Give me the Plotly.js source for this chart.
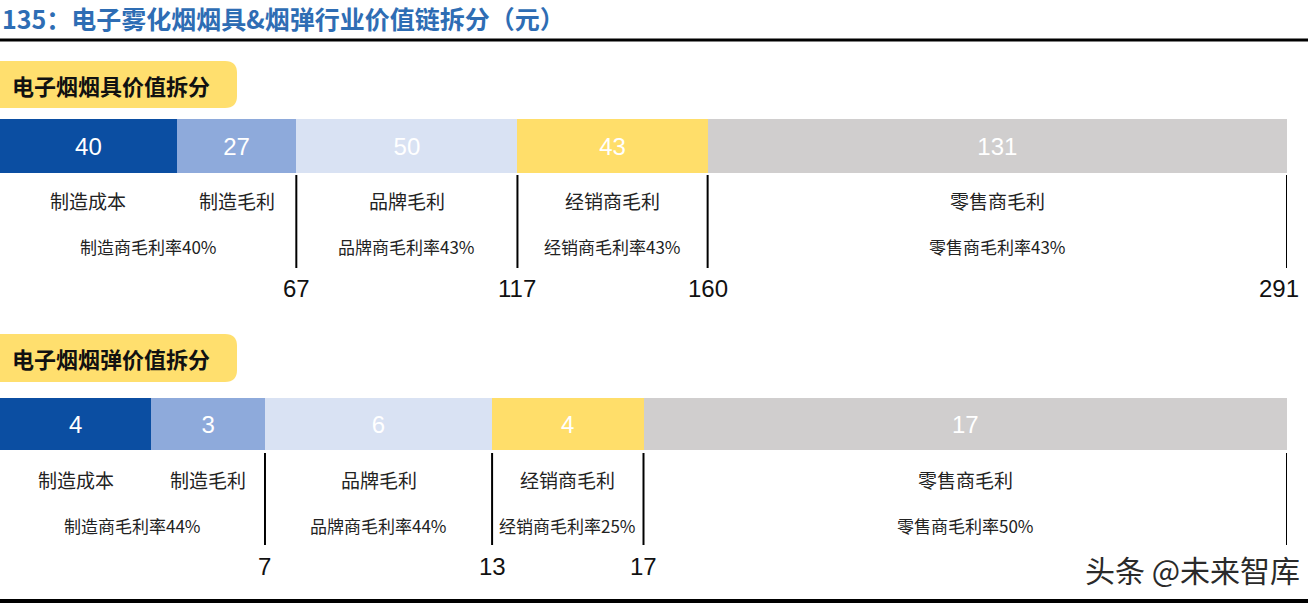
<!DOCTYPE html>
<html>
<head>
<meta charset="utf-8">
<script src="https://cdn.plot.ly/plotly-3.0.1.min.js"></script>
<style>
  html, body { margin: 0; padding: 0; background: #fff; }
  #app { width: 1308px; height: 604px; }
</style>
</head>
<body>
<div id="app"></div>
<script>
// value chain data (元)
const segNames = ['制造成本', '制造毛利', '品牌毛利', '经销商毛利', '零售商毛利'];
const segColors = ['#0B4EA2', '#8EAADB', '#D9E2F3', '#FFDE6A', '#D0CECE'];

const kitValues = [40, 27, 50, 43, 131];
const kitRates = ['制造商毛利率40%', '品牌商毛利率43%', '经销商毛利率43%', '零售商毛利率43%'];
const kitTicks = [67, 117, 160, 291];

const podValues = [4, 3, 6, 4, 17];
const podRates = ['制造商毛利率44%', '品牌商毛利率44%', '经销商毛利率25%', '零售商毛利率50%'];
const podTicks = [7, 13, 17];

const W = 1308, H = 604;
const py = (p) => 1 - p / H;   // pixel row -> paper y
const px = (p) => p / W;       // pixel col -> paper x

const cjk = '"Noto Sans CJK SC", "Noto Sans", sans-serif';
const num = '"Liberation Sans", Arial, sans-serif';

const traces = [];
const annotations = [];
const shapes = [];

function note(o) {
  annotations.push(Object.assign({ showarrow: false, yanchor: 'middle', xanchor: 'center' }, o));
}

function section(values, rates, ticks, xRef, ya, g) {
  const total = values.reduce((a, b) => a + b, 0);
  const cum = [];
  values.reduce((acc, v) => { cum.push(acc + v); return acc + v; }, 0);

  values.forEach((v, i) => {
    traces.push({
      type: 'bar',
      orientation: 'h',
      x: [v],
      y: [0],
      width: 1,
      xaxis: xRef,
      yaxis: ya,
      marker: { color: segColors[i], line: { width: 0 } },
      text: [String(v)],
      textposition: 'inside',
      insidetextanchor: 'middle',
      textangle: 0,
      constraintext: 'none',
      textfont: { family: num, size: 24, color: '#ffffff' },
      hoverinfo: 'skip',
      showlegend: false,
    });
    // first label row: segment names
    const start = i === 0 ? 0 : cum[i - 1];
    note({
      xref: xRef, yref: 'paper',
      x: start + v / 2, y: py(g.row1),
      text: segNames[i],
      font: { family: cjk, size: 19, color: '#222' },
    });
  });

  // second row: margin rates (manufacturer spans cost + margin)
  const spans = [[0, cum[1]], [cum[1], cum[2]], [cum[2], cum[3]], [cum[3], cum[4]]];
  rates.forEach((r, i) => {
    note({
      xref: xRef, yref: 'paper',
      x: (spans[i][0] + spans[i][1]) / 2, y: py(g.row2),
      text: r,
      font: { family: cjk, size: 17, color: '#222' },
    });
  });

  // separators at group boundaries
  cum.slice(1).forEach((c) => {
    shapes.push({
      type: 'line', xref: xRef, yref: 'paper',
      x0: c, x1: c, y0: py(g.lineTop), y1: py(g.lineBot),
      line: { color: '#000', width: 2 },
    });
  });

  ticks.forEach((t) => {
    const last = t === total;
    note({
      xref: xRef, yref: 'paper',
      x: t, y: py(g.tickY),
      xanchor: last ? 'right' : 'center', xshift: last ? 14 : 0,
      text: String(t),
      font: { family: num, size: 24, color: '#111' },
    });
  });
  return total;
}

function tag(text, top, bottom) {
  const r = 12;
  const x1 = px(237), xr = px(237 - r);
  const yt = py(top), yb = py(bottom), ytr = py(top + r), ybr = py(bottom - r);
  shapes.push({
    type: 'path', xref: 'paper', yref: 'paper', layer: 'below',
    path: `M 0 ${yt} L ${xr} ${yt} Q ${x1} ${yt} ${x1} ${ytr} L ${x1} ${ybr} Q ${x1} ${yb} ${xr} ${yb} L 0 ${yb} Z`,
    fillcolor: '#FFDF6E', line: { width: 0 },
  });
  note({
    xref: 'paper', yref: 'paper', x: px(10), y: py((top + bottom) / 2),
    xanchor: 'left', text: '<b>' + text + '</b>',
    font: { family: cjk, size: 22, color: '#111' },
  });
}

const kitTotal = section(kitValues, kitRates, kitTicks, 'x', 'y',
  { row1: 200, row2: 247, lineTop: 175, lineBot: 268, tickY: 288 });
const podTotal = section(podValues, podRates, podTicks, 'x2', 'y2',
  { row1: 479, row2: 525, lineTop: 453, lineBot: 545, tickY: 566 });

tag('电子烟烟具价值拆分', 61, 108);
tag('电子烟烟弹价值拆分', 334, 382);

// title + rules
note({
  xref: 'paper', yref: 'paper', x: 0, y: py(18), xanchor: 'left',
  text: '<b>135：电子雾化烟烟具&amp;烟弹行业价值链拆分（元）</b>',
  font: { family: cjk, size: 25, color: '#2E6DB4' },
});
shapes.push({ type: 'line', xref: 'paper', yref: 'paper', x0: 0, x1: 1, y0: py(40), y1: py(40),
  line: { color: '#000', width: 3 } });
shapes.push({ type: 'line', xref: 'paper', yref: 'paper', x0: 0, x1: 1, y0: py(601), y1: py(601),
  line: { color: '#000', width: 4 } });

// watermark
note({
  xref: 'paper', yref: 'paper', x: px(1302), y: py(569), xanchor: 'right',
  text: '头条 @未来智库',
  font: { family: cjk, size: 30, color: '#2a2a2a' },
});

const endFrac = 1287 / W;
const layout = {
  width: W, height: H,
  margin: { l: 0, r: 0, t: 0, b: 0 },
  paper_bgcolor: '#fff', plot_bgcolor: 'rgba(0,0,0,0)',
  barmode: 'stack', bargap: 0,
  showlegend: false,
  xaxis: { domain: [0, endFrac], range: [0, kitTotal], visible: false, fixedrange: true, anchor: 'y' },
  yaxis: { domain: [py(173), py(119)], range: [-0.5, 0.5], visible: false, fixedrange: true, anchor: 'x' },
  xaxis2: { domain: [0, endFrac], range: [0, podTotal], visible: false, fixedrange: true, anchor: 'y2' },
  yaxis2: { domain: [py(450), py(398)], range: [-0.5, 0.5], visible: false, fixedrange: true, anchor: 'x2' },
  annotations, shapes,
};

Plotly.newPlot('app', traces, layout, { staticPlot: true, displayModeBar: false });
</script>
</body>
</html>
